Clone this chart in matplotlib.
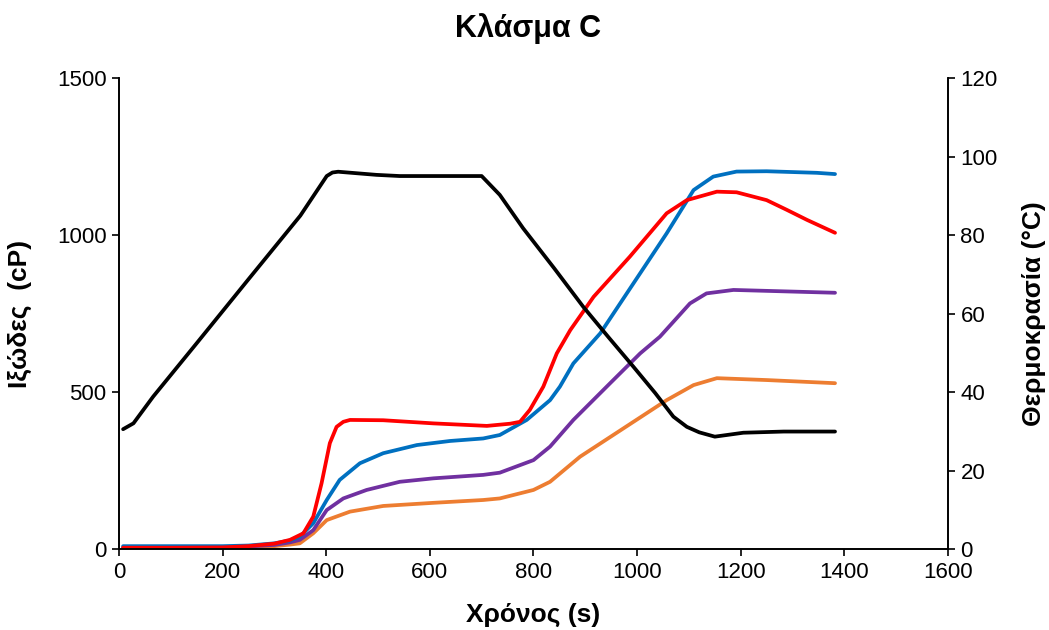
import matplotlib.pyplot as plt
import numpy as np

plt.rcParams['font.family'] = ['Liberation Sans', 'DejaVu Sans']

# Temperature (right axis)
t_temp = [8, 28, 66, 150, 250, 350, 401, 412, 423, 460, 497, 542, 620, 700,
          735, 780, 840, 896, 945, 993, 1035, 1070, 1096, 1120, 1150,
          1205, 1283, 1382]
temp = [30.6, 32.1, 38.9, 52.5, 68.8, 85.0, 95.1, 96.0, 96.2, 95.8, 95.4, 95.1, 95.1, 95.1,
        90.3, 81.8, 71.6, 61.8, 54.0, 46.5, 39.8, 33.8, 31.2, 29.8, 28.7,
        29.7, 30.0, 30.0]

# Viscosity (left axis)
t_red = [8, 100, 200, 250, 300, 330, 356, 375, 391, 407, 420, 433, 446, 510, 607, 710,
         755, 774, 793, 819, 845, 871, 916, 986, 1057, 1096, 1154, 1192, 1250,
         1289, 1328, 1382]
red = [5, 5, 6, 10, 18, 30, 51, 104, 210, 338, 390, 406, 412, 411, 401, 393,
       400, 406, 444, 518, 624, 698, 804, 932, 1070, 1112, 1139, 1137, 1112,
       1081, 1049, 1008]

t_blue = [8, 100, 200, 250, 300, 330, 349, 375, 401, 426, 465, 510, 575, 639, 703,
          735, 787, 832, 851, 877, 929, 993, 1057, 1109, 1147, 1192, 1250, 1347, 1382]
blue = [10, 10, 10, 12, 19, 28, 40, 83, 157, 221, 274, 306, 332, 345, 353,
        364, 412, 475, 518, 592, 688, 847, 1006, 1144, 1187, 1203, 1204, 1199, 1195]

t_purple = [8, 100, 200, 250, 300, 330, 349, 375, 401, 433, 478, 542, 607, 703,
            735, 800, 832, 877, 948, 1006, 1044, 1102, 1134, 1186, 1382]
purple = [6, 6, 7, 9, 14, 22, 30, 61, 125, 162, 189, 215, 226, 237,
          244, 284, 327, 412, 529, 624, 677, 783, 815, 826, 817]

t_orange = [8, 100, 200, 250, 300, 330, 349, 375, 401, 446, 510, 607, 703,
            735, 800, 832, 890, 993, 1057, 1109, 1154, 1250, 1382]
orange = [3, 3, 4, 6, 10, 15, 19, 51, 93, 120, 138, 148, 157,
          162, 189, 215, 295, 406, 475, 523, 545, 539, 529]

fig = plt.figure(figsize=(10.49, 6.3), dpi=100)
ax = fig.add_axes([0.1134, 0.1281, 0.7903, 0.7476])
ax2 = ax.twinx()

lw = 2.7
ax.plot(t_orange, orange, color='#ED7D31', lw=lw, solid_joinstyle='round', solid_capstyle='round')
ax.plot(t_purple, purple, color='#7030A0', lw=lw, solid_joinstyle='round', solid_capstyle='round')
ax.plot(t_blue, blue, color='#0070C0', lw=lw, solid_joinstyle='round', solid_capstyle='round')
ax.plot(t_red, red, color='#FF0000', lw=lw, solid_joinstyle='round', solid_capstyle='round')
ax2.plot(t_temp, temp, color='black', lw=lw, solid_joinstyle='round', solid_capstyle='round')

ax.set_xlim(0, 1600)
ax.set_ylim(0, 1500)
ax2.set_ylim(0, 120)
ax.set_xticks(np.arange(0, 1601, 200))
ax.set_yticks([0, 500, 1000, 1500])
ax2.set_yticks(np.arange(0, 121, 20))

for a in (ax, ax2):
    a.spines['top'].set_visible(False)
    a.tick_params(direction='out', length=5, width=1.2, labelsize=16, pad=4)
    for s in a.spines.values():
        s.set_linewidth(1.2)

ax.set_xlabel('Χρόνος (s)', fontsize=19, fontweight='bold')
ax.xaxis.set_label_coords(0.5, -0.114)
ax.set_ylabel('Ιξώδες  (cP)', fontsize=19, fontweight='bold')
ax.yaxis.set_label_coords(-0.105, 0.5)
ax2.set_ylabel('Θερμοκρασία (°C)', fontsize=19, fontweight='bold')
ax2.yaxis.set_label_coords(1.089, 0.5)
fig.text(0.503, 0.954, 'Κλάσμα C', fontsize=22, fontweight='bold',
         ha='center', va='center')

fig.savefig('out.png', dpi=100)
